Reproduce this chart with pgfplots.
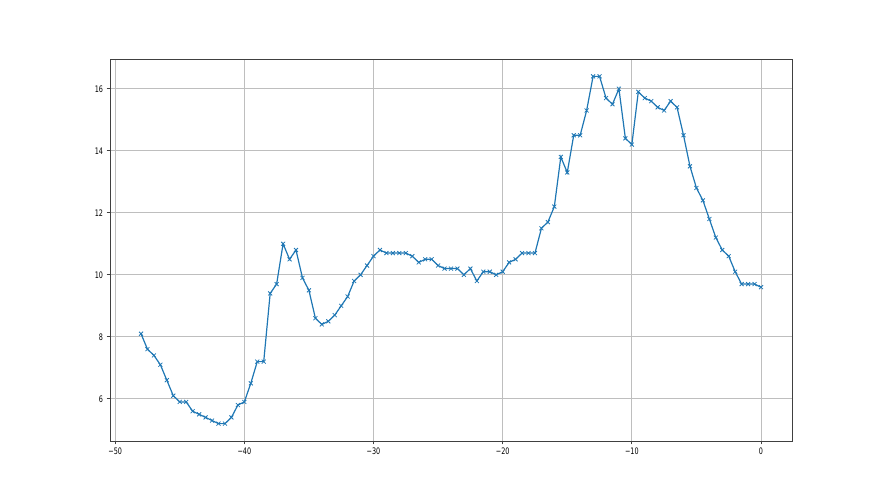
\documentclass[border=0pt]{standalone}
\usepackage{fontspec}
\setmainfont[FakeStretch=0.72]{DejaVu Sans}
\usepackage{pgfplots}
\pgfplotsset{compat=1.18}
\definecolor{mplblue}{HTML}{1F77B4}
\definecolor{mplgrid}{HTML}{BEBEBE}

\begin{document}
\begin{tikzpicture}[x=1bp,y=1bp]
\path[use as bounding box] (0,0) rectangle (880,495);
\begin{axis}[
  at={(110bp,54bp)}, anchor=south west,
  scale only axis, width=682bp, height=382bp,
  xmin=-50.4, xmax=2.4, ymin=4.64, ymax=16.96,
  xtick={-50,-40,-30,-20,-10,0},
  xticklabels={−50,−40,−30,−20,−10,0},
  ytick={6,8,10,12,14,16},
  grid=major,
  major grid style={mplgrid, line width=0.7bp},
  axis line style={black!75, line width=0.8bp},
  tick align=outside, tick pos=left,
  major tick length=3.5bp,
  every tick/.style={black!75, line width=0.8bp},
  tick label style={font=\fontsize{9}{11}\selectfont},
  /pgf/number format/assume math mode=true,
]
\addplot[color=mplblue, line width=1.2bp, mark=x, mark size=2.8bp,
  mark options={line width=0.8bp, solid}] coordinates {
(-48,8.1) (-47.5,7.6) (-47,7.4) (-46.5,7.1) (-46,6.6) (-45.5,6.1)
(-45,5.9) (-44.5,5.9) (-44,5.6) (-43.5,5.5) (-43,5.4) (-42.5,5.3)
(-42,5.2) (-41.5,5.2) (-41,5.4) (-40.5,5.8) (-40,5.9) (-39.5,6.5)
(-39,7.2) (-38.5,7.2) (-38,9.4) (-37.5,9.7) (-37,11.0) (-36.5,10.5)
(-36,10.8) (-35.5,9.9) (-35,9.5) (-34.5,8.6) (-34,8.4) (-33.5,8.5)
(-33,8.7) (-32.5,9.0) (-32,9.3) (-31.5,9.8) (-31,10.0) (-30.5,10.3)
(-30,10.6) (-29.5,10.8) (-29,10.7) (-28.5,10.7) (-28,10.7) (-27.5,10.7)
(-27,10.6) (-26.5,10.4) (-26,10.5) (-25.5,10.5) (-25,10.3) (-24.5,10.2)
(-24,10.2) (-23.5,10.2) (-23,10.0) (-22.5,10.2) (-22,9.8) (-21.5,10.1)
(-21,10.1) (-20.5,10.0) (-20,10.1) (-19.5,10.4) (-19,10.5) (-18.5,10.7)
(-18,10.7) (-17.5,10.7) (-17,11.5) (-16.5,11.7) (-16,12.2) (-15.5,13.8)
(-15,13.3) (-14.5,14.5) (-14,14.5) (-13.5,15.3) (-13,16.4) (-12.5,16.4)
(-12,15.7) (-11.5,15.5) (-11,16.0) (-10.5,14.4) (-10,14.2) (-9.5,15.9)
(-9,15.7) (-8.5,15.6) (-8,15.4) (-7.5,15.3) (-7,15.6) (-6.5,15.4)
(-6,14.5) (-5.5,13.5) (-5,12.8) (-4.5,12.4) (-4,11.8) (-3.5,11.2)
(-3,10.8) (-2.5,10.6) (-2,10.1) (-1.5,9.7) (-1,9.7) (-0.5,9.7)
(0,9.6)
};
\end{axis}
\end{tikzpicture}
\end{document}
